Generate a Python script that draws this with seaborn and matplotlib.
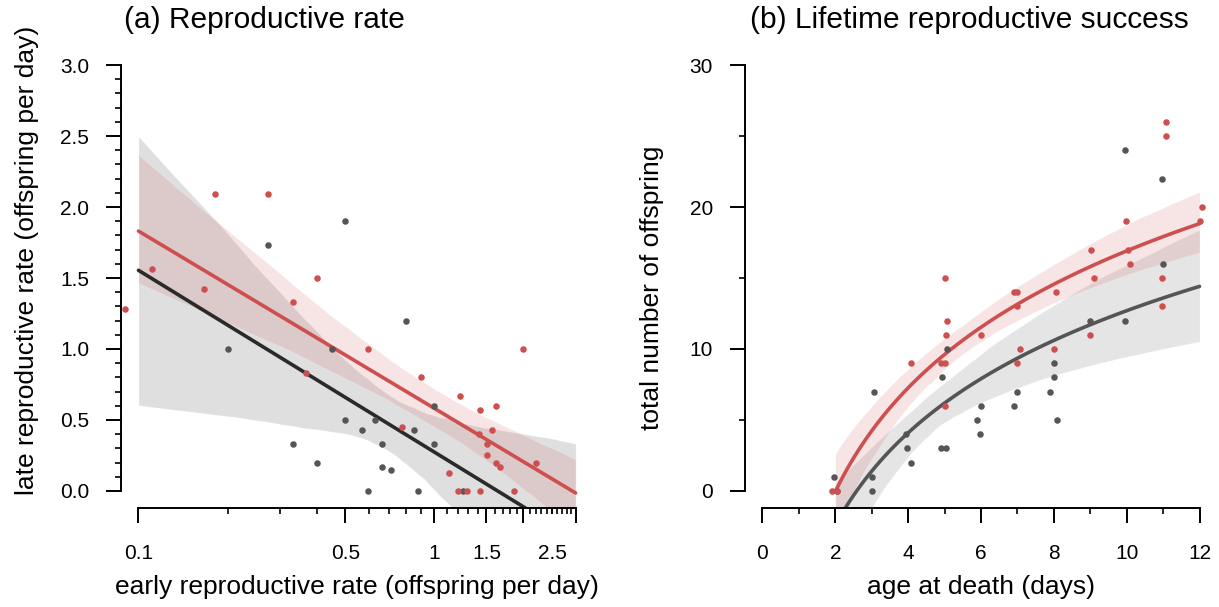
import numpy as np
import pandas as pd
import matplotlib
matplotlib.use("Agg")
import matplotlib.pyplot as plt
from matplotlib.ticker import NullFormatter
import seaborn as sns

# (a) early vs late reproductive rate (offspring per day)
early_red = [0.090, 0.111, 0.167, 0.182, 0.273, 0.334, 0.367, 0.40, 0.598, 0.78,
             0.90, 1.12, 1.20, 1.22, 1.29, 1.41, 1.43, 1.43, 1.51, 1.51,
             1.57, 1.61, 1.61, 1.67, 1.86, 2.0, 2.21]
late_red = [1.28, 1.56, 1.42, 2.09, 2.09, 1.33, 0.83, 1.50, 1.00, 0.45,
            0.80, 0.13, 0.0, 0.67, 0.0, 0.40, 0.57, 0.0, 0.33, 0.25,
            0.43, 0.60, 0.20, 0.17, 0.0, 1.0, 0.20]
early_grey = [0.2, 0.273, 0.334, 0.40, 0.452, 0.5, 0.5, 0.571, 0.598, 0.63,
              0.667, 0.667, 0.716, 0.80, 0.855, 0.877, 1.0, 1.0, 1.25]
late_grey = [1.0, 1.73, 0.33, 0.20, 1.0, 1.90, 0.50, 0.43, 0.0, 0.50,
             0.33, 0.17, 0.15, 1.20, 0.43, 0.0, 0.60, 0.33, 0.0]

# (b) age at death vs total offspring
age_red = [1.9, 2.05, 4.07, 4.9, 5.0, 5.0, 5.08, 5.03, 5.0, 6.0,
           6.9, 7.0, 7.0, 7.06, 7.0, 8.05, 8.0, 9.03, 9.1, 9.0,
           9.97, 10.03, 10.1, 11.07, 11.07, 10.96, 10.96, 12.06, 12.0]
total_red = [0, 0, 9, 9, 9, 15, 12, 11, 6, 11,
             14, 14, 13, 10, 9, 14, 10, 17, 15, 11,
             19, 17, 16, 26, 25, 15, 13, 20, 19]
age_grey = [1.95, 2.05, 3.0, 3.0, 3.05, 3.93, 3.96, 4.07, 4.9, 5.05,
            4.92, 5.08, 5.9, 5.97, 6.0, 6.9, 7.0, 7.9, 8.0, 8.0,
            8.1, 9.0, 9.95, 9.95, 10.96, 11.0]
total_grey = [1, 0, 0, 1, 7, 4, 3, 2, 3, 3,
              8, 10, 5, 4, 6, 6, 7, 7, 8, 9,
              5, 12, 12, 24, 22, 16]

RED = "#CD4F4F"
GREY = "#555555"
DARK = "#2A2A2A"

sns.set_theme(style="ticks", rc={"text.color": "black", "axes.labelcolor": "black",
                                 "xtick.color": "black", "ytick.color": "black"})
plt.rcParams["font.family"] = ["Liberation Sans", "DejaVu Sans"]

fig = plt.figure(figsize=(12.19, 6.07), dpi=100)
W, H = 1219, 607
ax1 = fig.add_axes([121 / W, 1 - 508 / H, 472 / W, 460 / H])
ax2 = fig.add_axes([745 / W, 1 - 508 / H, 472 / W, 460 / H])

# ---- panel a ----
ax1.set_xscale("log")
ax1.set_xlim(0.1, 3)
sns.regplot(x=early_grey, y=late_grey, ax=ax1, logx=True, scatter=False,
            truncate=False, color=DARK, seed=3, line_kws={"lw": 2.6})
sns.regplot(x=early_red, y=late_red, ax=ax1, logx=True, scatter=False,
            truncate=False, color=RED, seed=3, line_kws={"lw": 2.6})
sns.scatterplot(x=early_grey, y=late_grey, ax=ax1, color=GREY, s=22, linewidth=0, zorder=3)
sns.scatterplot(x=early_red, y=late_red, ax=ax1, color=RED, s=22, linewidth=0, zorder=3)
ax1.set_xlim(10 ** -1.059, 10 ** 0.536)
ax1.set_ylim(-0.12, 3.12)

# ---- panel b ----
ax2.set_xlim(2, 12)
sns.regplot(x=age_grey, y=total_grey, ax=ax2, logx=True, scatter=False,
            truncate=False, color=GREY, seed=3, line_kws={"lw": 2.6})
sns.regplot(x=age_red, y=total_red, ax=ax2, logx=True, scatter=False,
            truncate=False, color=RED, seed=3, line_kws={"lw": 2.6})
sns.scatterplot(x=age_grey, y=total_grey, ax=ax2, color=GREY, s=22, linewidth=0, zorder=3)
sns.scatterplot(x=age_red, y=total_red, ax=ax2, color=RED, s=22, linewidth=0, zorder=3)
ax2.set_xlim(-0.48, 12.48)
ax2.set_ylim(-1.2, 31.2)

for ax in (ax1, ax2):
    sns.despine(ax=ax)
    for s in ("left", "bottom"):
        ax.spines[s].set_linewidth(1.4)
        ax.spines[s].set_color("black")
    ax.tick_params(which="major", length=11, width=1.4, color="black", labelsize=15)
    ax.tick_params(which="minor", length=4, width=1.2, color="black")
    ax.tick_params(axis="x", which="both", pad=15)
    ax.tick_params(axis="y", which="both", pad=12)

ax1.spines["left"].set_bounds(0, 3)
ax1.spines["bottom"].set_bounds(0.1, 3)
ax1.set_yticks(np.arange(0, 3.01, 0.5), labels=[f"{v:.1f}" for v in np.arange(0, 3.01, 0.5)])
ax1.set_yticks(np.arange(0, 3.01, 0.1), minor=True)
ax1.set_xticks([0.1, 0.5, 1, 1.5, 2, 2.5, 3], labels=["0.1", "0.5", "1", "1.5", "", "2.5", ""])
minor_x = [v for v in np.round(np.arange(0.1, 3.01, 0.1), 1) if v not in (0.1, 0.5, 1.0, 1.5, 2.0, 2.5, 3.0)]
ax1.set_xticks(minor_x, minor=True)
ax1.xaxis.set_minor_formatter(NullFormatter())
ax1.xaxis.get_major_ticks()[5].tick1line.set_markersize(4)

ax2.spines["left"].set_bounds(0, 30)
ax2.spines["bottom"].set_bounds(0, 12)
ax2.set_yticks([0, 10, 20, 30])
ax2.set_yticks([5, 15, 25], minor=True)
ax2.set_xticks(np.arange(0, 13, 2))
ax2.set_xticks(np.arange(1, 12, 2), minor=True)

ax1.text(0.303, 1.061, "(a) Reproductive rate", transform=ax1.transAxes,
         ha="center", va="center", fontsize=21.5)
ax2.text(0.475, 1.061, "(b) Lifetime reproductive success", transform=ax2.transAxes,
         ha="center", va="center", fontsize=21.5)

ax1.set_xlabel("early reproductive rate (offspring per day)", fontsize=19)
ax1.set_ylabel("late reproductive rate (offspring per day)", fontsize=19)
ax2.set_xlabel("age at death (days)", fontsize=19)
ax2.set_ylabel("total number of offspring", fontsize=19)
ax1.xaxis.set_label_coords(0.5, -0.146)
ax2.xaxis.set_label_coords(0.5, -0.146)
ax1.yaxis.set_label_coords(-0.174, 0.539)
ax2.yaxis.set_label_coords(-0.172, 0.478)

fig.savefig("out.png", dpi=100)
